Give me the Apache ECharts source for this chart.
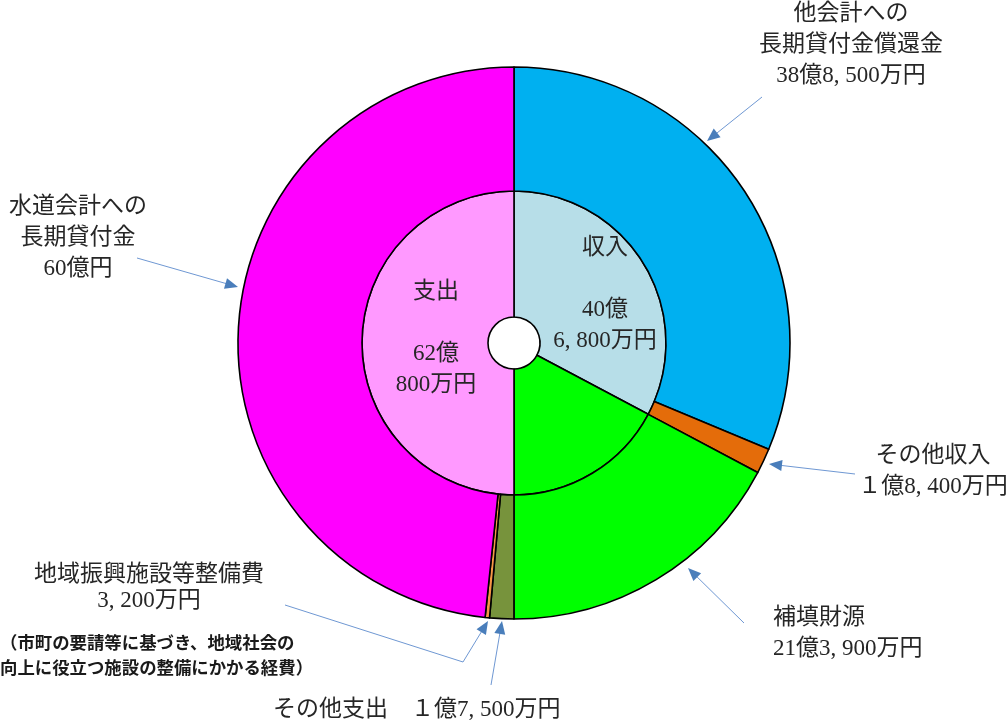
<!DOCTYPE html>
<html><head><meta charset="utf-8">
<script src="https://cdn.jsdelivr.net/npm/echarts@6/dist/echarts.min.js"></script>
<style>html,body{margin:0;padding:0;background:#fff}#c{width:1007px;height:724px}</style>
</head><body><div id="c"></div>
<script>
// 値の単位：万円
const outerNames = ['他会計への\n長期貸付金償還金', 'その他収入', '補填財源', 'その他支出', '地域振興施設等整備費', '水道会計への\n長期貸付金'];
const outerValues = [388500, 18400, 213900, 17500, 3200, 600000];
const outerAmounts = ['38億8, 500万円', '１億8, 400万円', '21億3, 900万円', '１億7, 500万円', '3, 200万円', '60億円'];
const innerNames = ['収入', '補填財源', '支出'];
const innerValues = [406800, 213900, 620800];
const innerAmounts = ['40億\n6, 800万円', '', '62億\n800万円'];
const noteText = '（市町の要請等に基づき、地域社会の\n向上に役立つ施設の整備にかかる経費）';

const outerColors = ['#00B0F0', '#E46C0A', '#00FF00', '#77933C', '#F79646', '#FF00FF'];
const innerColors = ['#B7DEE8', '#00FF00', '#FF99FF'];

const FONT = '"Liberation Serif", "Noto Sans CJK JP", serif';
const TEXT_COLOR = '#262626';
const CENTER = [514, 343];

// label placement (layout only)
const outerLabelPlace = [
  { x: 851, y: 45, align: 'center' },
  { x: 933, y: 471, align: 'center' },
  { x: 773, y: 633, align: 'left' },
  { x: 273, y: 710, align: 'left' },
  { x: 149, y: 588, align: 'center' },
  { x: 78, y: 238, align: 'center' }
];
const innerLabelPlace = [
  { x: 605, y: 294, align: 'center' },
  null,
  { x: 436, y: 338, align: 'center' }
];

// leader arrows (annotation geometry)
const arrowPaths = [
  [[762, 97], [707, 141]],
  [[137, 258], [238, 287]],
  [[855, 474], [769, 464]],
  [[744, 623], [688, 568]],
  [[285, 605], [463, 662], [488, 621]],
  [[491, 685], [502, 621]]
];

function arrowGraphics(pts) {
  const T = pts[pts.length - 1], P = pts[pts.length - 2];
  const dx = T[0] - P[0], dy = T[1] - P[1];
  const len = Math.hypot(dx, dy);
  const ux = dx / len, uy = dy / len;
  const L = 13, W = 11;
  const bx = T[0] - ux * L, by = T[1] - uy * L;
  const nx = -uy, ny = ux;
  const lineEnd = [T[0] - ux * (L - 2), T[1] - uy * (L - 2)];
  const linePts = pts.slice(0, -1).concat([lineEnd]);
  return [
    { type: 'polyline', shape: { points: linePts }, style: { stroke: '#6F98D3', lineWidth: 1, fill: null }, silent: true },
    { type: 'polygon', shape: { points: [T, [bx + nx * W / 2, by + ny * W / 2], [bx - nx * W / 2, by - ny * W / 2]] }, style: { fill: '#4A7EBB' }, silent: true }
  ];
}

const graphics = [];
arrowPaths.forEach(p => graphics.push(...arrowGraphics(p)));
graphics.push({
  type: 'text', left: 0, top: 630, silent: true,
  style: { text: noteText, font: 'bold 17.4px "Noto Sans CJK JP", sans-serif', lineHeight: 25, fill: '#1a1a1a' }
});

const outerData = outerNames.map((n, i) => ({
  name: n, value: outerValues[i],
  itemStyle: { color: outerColors[i] },
  label: i === 4 ? { lineHeight: 26 } : {}
}));
const innerData = innerNames.map((n, i) => ({
  name: n, value: innerValues[i],
  itemStyle: { color: innerColors[i] },
  label: { show: i !== 1 }
}));

const chart = echarts.init(document.getElementById('c'), null, { renderer: 'canvas' });
chart.setOption({
  animation: false,
  backgroundColor: '#fff',
  graphic: graphics,
  series: [
    {
      type: 'pie', name: 'inner', center: CENTER, radius: [26, 152],
      startAngle: 90, clockwise: true, avoidLabelOverlap: false,
      itemStyle: { borderColor: '#000', borderWidth: 1.6 },
      emphasis: { disabled: true },
      label: {
        show: true, position: 'inside', color: TEXT_COLOR, fontFamily: FONT, fontSize: 23, lineHeight: 31,
        formatter: p => p.name + '\n\n' + innerAmounts[p.dataIndex]
      },
      labelLine: { show: false },
      labelLayout: p => {
        const pl = innerLabelPlace[p.dataIndex];
        return pl ? { x: pl.x, y: pl.y, align: pl.align, verticalAlign: 'middle' } : {};
      },
      data: innerData
    },
    {
      type: 'pie', name: 'outer', center: CENTER, radius: [152, 276],
      startAngle: 90, clockwise: true, avoidLabelOverlap: false,
      itemStyle: { borderColor: '#000', borderWidth: 1.6 },
      emphasis: { disabled: true },
      label: {
        show: true, position: 'outside', color: TEXT_COLOR, fontFamily: FONT, fontSize: 23, lineHeight: 31,
        formatter: p => p.dataIndex === 3 ? p.name + '　' + outerAmounts[3] : p.name + '\n' + outerAmounts[p.dataIndex]
      },
      labelLine: { show: false },
      labelLayout: p => {
        const pl = outerLabelPlace[p.dataIndex];
        return { x: pl.x, y: pl.y, align: pl.align, verticalAlign: 'middle' };
      },
      data: outerData
    }
  ]
});
</script>
</body></html>
